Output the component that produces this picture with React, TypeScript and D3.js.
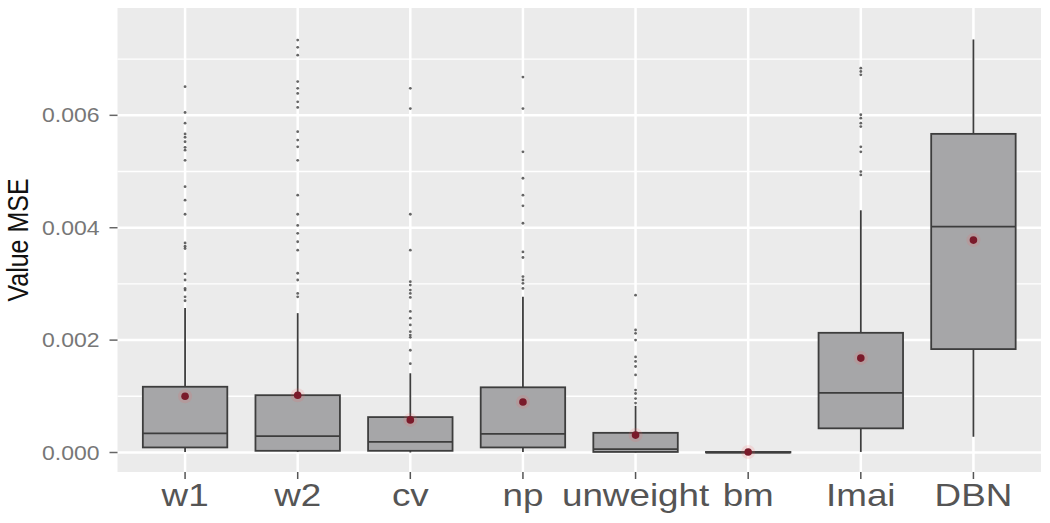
import * as d3 from 'd3';
import React, { useRef, useEffect } from 'react';

const categories = ["w1", "w2", "cv", "np", "unweight", "bm", "Imai", "DBN"];

const lowerWhisker = [0.00001, 0.00001, 0.0, 0.00001, 0.0, 0.0, 0.00001, 0.00028];
const q1 = [0.00009, 0.00003, 0.00003, 0.00009, 0.00001, 0.0, 0.00043, 0.00184];
const median = [0.00034, 0.00029, 0.00019, 0.00033, 0.00006, 0.0, 0.00106, 0.00402];
const q3 = [0.00117, 0.00102, 0.00063, 0.00116, 0.00035, 0.00001, 0.00213, 0.00567];
const upperWhisker = [0.00257, 0.00248, 0.00141, 0.00277, 0.00083, 0.00002, 0.00431, 0.00735];
const means = [0.00100, 0.00102, 0.00058, 0.00090, 0.00031, 0.00001, 0.00168, 0.00378];

const w1Outliers = [0.00651, 0.00605, 0.00586, 0.00567, 0.00561, 0.00553, 0.00543, 0.00538, 0.00520,
  0.00473, 0.00449, 0.00424, 0.00373, 0.00367, 0.00363, 0.00318, 0.00307, 0.00292, 0.00289, 0.00277, 0.00270];
const w2Outliers = [0.00734, 0.00721, 0.00707, 0.00660, 0.00648, 0.00639, 0.00624, 0.00614, 0.00571,
  0.00556, 0.00544, 0.00520, 0.00458, 0.00424, 0.00404, 0.00390, 0.00375, 0.00360, 0.00319, 0.00307,
  0.00283, 0.00277];
const cvOutliers = [0.00648, 0.00612, 0.00424, 0.00360, 0.00304, 0.00298, 0.00289, 0.00283, 0.00276,
  0.00251, 0.00239, 0.00227, 0.00215, 0.00209, 0.00205, 0.00182, 0.00158];
const npOutliers = [0.00668, 0.00612, 0.00535, 0.00488, 0.00458, 0.00439, 0.00408, 0.00357, 0.00347,
  0.00313, 0.00307, 0.00301, 0.00292];
const unweightOutliers = [0.00280, 0.00218, 0.00212, 0.00200, 0.00170, 0.00162, 0.00153, 0.00138,
  0.00111, 0.00105, 0.00096, 0.00088];
const bmOutliers: number[] = [];
const imaiOutliers = [0.00684, 0.00678, 0.00672, 0.00601, 0.00595, 0.00586, 0.00580, 0.00544, 0.00535,
  0.00500, 0.00494];
const dbnOutliers: number[] = [];

const outliers = [w1Outliers, w2Outliers, cvOutliers, npOutliers, unweightOutliers, bmOutliers, imaiOutliers, dbnOutliers];

const yTicks = [0, 0.002, 0.004, 0.006];
const yMinorTicks = [0.001, 0.003, 0.005, 0.007];
const yDomain = [-0.000347, 0.00791];

// the source image is stretched sideways a bit, text too
const STRETCH = 1.15;

const BoxPlot = () => {
  const ref = useRef<SVGSVGElement>(null);

  useEffect(() => {
    const panel = { left: 117.5, right: 1041, top: 8, bottom: 472 };
    const svg = d3.select(ref.current).attr('width', 1050).attr('height', 523);
    svg.selectAll('*').remove();
    const g = svg.append('g');

    const step = (panel.right - panel.left) / (categories.length + 0.2);
    const x = d3.scalePoint<string>()
      .domain(categories)
      .range([panel.left + 0.6 * step, panel.right - 0.6 * step]);
    const y = d3.scaleLinear().domain(yDomain).range([panel.bottom, panel.top]);
    const boxW = 0.75 * step;

    g.append('rect')
      .attr('x', panel.left).attr('y', panel.top)
      .attr('width', panel.right - panel.left).attr('height', panel.bottom - panel.top)
      .attr('fill', '#ebebeb');

    g.selectAll('line.minor').data(yMinorTicks).enter().append('line')
      .attr('x1', panel.left).attr('x2', panel.right)
      .attr('y1', d => y(d)).attr('y2', d => y(d))
      .attr('stroke', '#fff').attr('stroke-width', 1.4);
    g.selectAll('line.major').data(yTicks).enter().append('line')
      .attr('x1', panel.left).attr('x2', panel.right)
      .attr('y1', d => y(d)).attr('y2', d => y(d))
      .attr('stroke', '#fff').attr('stroke-width', 2.5);
    g.selectAll('line.vgrid').data(categories).enter().append('line')
      .attr('x1', d => x(d)!).attr('x2', d => x(d)!)
      .attr('y1', panel.top).attr('y2', panel.bottom)
      .attr('stroke', '#fff').attr('stroke-width', 2.5);

    const boxes = g.selectAll('g.box').data(categories).enter().append('g')
      .attr('class', 'box')
      .attr('transform', d => `translate(${x(d)},0)`);

    boxes.append('line')
      .attr('y1', (_, i) => y(lowerWhisker[i])).attr('y2', (_, i) => y(q1[i]))
      .attr('stroke', '#3d3d3d').attr('stroke-width', 1.8);
    boxes.append('line')
      .attr('y1', (_, i) => y(q3[i])).attr('y2', (_, i) => y(upperWhisker[i]))
      .attr('stroke', '#3d3d3d').attr('stroke-width', 1.8);
    boxes.append('rect')
      .attr('x', -boxW / 2).attr('width', boxW)
      .attr('y', (_, i) => y(q3[i]))
      .attr('height', (_, i) => Math.max(0.5, y(q1[i]) - y(q3[i])))
      .attr('fill', '#a6a6a8').attr('stroke', '#3d3d3d').attr('stroke-width', 1.8);
    boxes.append('line')
      .attr('x1', -boxW / 2).attr('x2', boxW / 2)
      .attr('y1', (_, i) => y(median[i])).attr('y2', (_, i) => y(median[i]))
      .attr('stroke', '#3d3d3d').attr('stroke-width', 1.8);

    boxes.each(function(_, i) {
      d3.select(this).selectAll('circle.out').data(outliers[i]).enter().append('circle')
        .attr('cy', d => y(d)).attr('r', 1.4)
        .attr('fill', '#3f3f3f').attr('opacity', 0.8);
    });

    boxes.append('circle')
      .attr('cy', (_, i) => y(means[i])).attr('r', 7)
      .attr('fill', '#ff6060').attr('opacity', 0.15);
    boxes.append('circle')
      .attr('cy', (_, i) => y(means[i])).attr('r', 3.8)
      .attr('fill', '#7a1a2a');

    // y axis
    g.selectAll('line.ytick').data(yTicks).enter().append('line')
      .attr('x1', panel.left - 8).attr('x2', panel.left)
      .attr('y1', d => y(d)).attr('y2', d => y(d))
      .attr('stroke', '#666').attr('stroke-width', 1.5);
    g.selectAll('text.ylab').data(yTicks).enter().append('text')
      .attr('transform', d => `translate(${panel.left - 18},${y(d) + 7}) scale(${STRETCH},1)`)
      .attr('text-anchor', 'end')
      .attr('font-family', 'Liberation Sans, Arial, sans-serif')
      .attr('font-size', 20)
      .attr('fill', '#777')
      .text(d => d3.format('.3f')(d));

    // x axis
    g.selectAll('line.xtick').data(categories).enter().append('line')
      .attr('x1', d => x(d)!).attr('x2', d => x(d)!)
      .attr('y1', panel.bottom).attr('y2', panel.bottom + 7)
      .attr('stroke', '#555').attr('stroke-width', 1.5);
    g.selectAll('text.xlab').data(categories).enter().append('text')
      .attr('transform', d => `translate(${x(d)},${panel.bottom + 34}) scale(${STRETCH},1)`)
      .attr('text-anchor', 'middle')
      .attr('font-family', 'Liberation Sans, Arial, sans-serif')
      .attr('font-size', 32)
      .attr('fill', '#555')
      .text(d => d);

    g.append('text')
      .attr('transform', `translate(28,${(panel.top + panel.bottom) / 2}) rotate(-90) scale(1,${STRETCH})`)
      .attr('text-anchor', 'middle')
      .attr('font-family', 'Liberation Sans, Arial, sans-serif')
      .attr('font-size', 25)
      .attr('fill', '#111')
      .text('Value MSE');
  }, []);

  return <svg ref={ref} style={{ display: 'block', position: 'absolute', left: 0, top: 0 }}></svg>;
};

export default function App() {
  return <BoxPlot />;
}
